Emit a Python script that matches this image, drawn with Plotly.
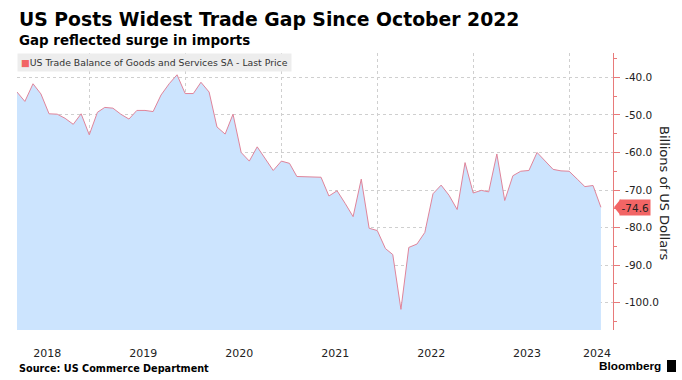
import pandas as pd
import plotly.graph_objects as go

# ---- data (monthly, Mar 2018 - Apr 2024), billions of US dollars ----
START_MONTH_END = "2018-03-31"
VALUES = [
    -43.9, -46.4, -41.7, -44.4, -49.7, -49.8, -50.9, -52.5, -49.7, -55.3,              # 2018 Mar-Dec
    -49.3, -48.0, -48.2, -49.8, -51.1, -48.8, -48.8, -49.1, -44.7, -41.7, -39.3, -44.3,  # 2019
    -44.3, -41.3, -43.9, -53.2, -55.1, -49.8, -60.0, -62.3, -58.5, -61.6, -64.8, -62.3,  # 2020
    -62.9, -66.4, -66.4, -66.6, -66.6, -71.6, -70.2, -73.6, -77.1, -67.1, -80.2, -80.8,  # 2021
    -85.6, -87.2, -101.8, -85.3, -84.4, -81.3, -71.0, -68.7, -71.4, -75.2, -62.7, -70.8, # 2022
    -70.1, -70.5, -60.4, -72.8, -66.2, -65.0, -64.8, -60.0, -62.2, -64.5, -64.9, -65.0,  # 2023
    -67.1, -69.1, -68.8, -74.6,                                                          # 2024 Jan-Apr
]
DATES = pd.date_range(START_MONTH_END, periods=len(VALUES), freq="ME")

Y_TICKS = [-40, -50, -60, -70, -80, -90, -100]
Y_TICK_LABELS = [f"{v:.1f}" for v in Y_TICKS]
X_TICK_LABELS = ["2018", "2019", "2020", "2021", "2022", "2023", "2024"]
X_TICK_DATES = ["2018-07-24", "2019-07-24", "2020-07-24", "2021-07-24",
                "2022-07-24", "2023-07-24", "2024-04-15"]
X_RANGE = ["2018-03-31", "2024-06-15"]
Y_RANGE = [-107.3, -33.5]

TITLE = "US Posts Widest Trade Gap Since October 2022"
SUBTITLE = "Gap reflected surge in imports"
SERIES_NAME = "US Trade Balance of Goods and Services SA - Last Price"
SOURCE = "Source: US Commerce Department"
Y_TITLE = "Billions of US Dollars"

# ---- styles ----
FILL = "#cce4fe"
LINE = "#e0849a"
RED = "#e87a7a"
LABEL_RED = "#f26565"
GRID = "#cfcfcf"
FONT = "DejaVu Sans"

fig = go.Figure()
# invisible baseline at the bottom of the axis so the area fills downward
fig.add_trace(go.Scatter(x=DATES, y=[Y_RANGE[0]] * len(DATES), mode="lines",
                         line=dict(width=0), hoverinfo="skip", showlegend=False))
fig.add_trace(go.Scatter(x=DATES, y=VALUES, mode="lines", name=SERIES_NAME,
                         line=dict(color=LINE, width=1), fill="tonexty",
                         fillcolor=FILL, showlegend=False))

W, H = 682, 380
L, R, T, B = 17, 69, 53, 50
pw, ph = W - L - R, H - T - B


def px_x(x):
    return (x - L) / pw


def px_y(y):
    return (H - B - y) / ph


fig.update_layout(
    width=W, height=H,
    margin=dict(l=L, r=R, t=T, b=B, autoexpand=False),
    paper_bgcolor="white", plot_bgcolor="white",
    font=dict(family=FONT, color="#222222"),
    showlegend=False,
    xaxis=dict(
        type="date", range=X_RANGE, automargin=False,
        tickmode="array", tickvals=X_TICK_DATES, ticktext=X_TICK_LABELS,
        showgrid=False, showline=False, zeroline=False, ticks="",
        tickfont=dict(size=11, color="#222222"),
        ticklabelstandoff=15,
        minor=dict(dtick="M12", tick0="2018-01-01", showgrid=True,
                   gridcolor=GRID, griddash="dot", gridwidth=1, ticks=""),
    ),
    yaxis=dict(
        side="right", range=Y_RANGE, automargin=False,
        tickmode="array", tickvals=Y_TICKS, ticktext=Y_TICK_LABELS,
        showgrid=True, gridcolor=GRID, griddash="dot", gridwidth=1,
        zeroline=False, showline=True, linecolor=RED, linewidth=1,
        ticks="outside", ticklen=6, tickcolor=RED, tickwidth=1,
        tickfont=dict(size=10.5, color="#222222"),
        ticklabelstandoff=3,
        minor=dict(dtick=5, tick0=0, ticks="outside", ticklen=3,
                   tickcolor=RED, showgrid=False),
    ),
)

annotations = [
    dict(text=f"<b>{TITLE}</b>", x=px_x(17), y=px_y(19), xref="paper", yref="paper",
         xanchor="left", yanchor="middle", showarrow=False,
         font=dict(size=18.8, color="black", family=FONT)),
    dict(text=f"<b>{SUBTITLE}</b>", x=px_x(17), y=px_y(40), xref="paper", yref="paper",
         xanchor="left", yanchor="middle", showarrow=False,
         font=dict(size=13.4, color="black", family=FONT)),
    dict(text=f"<span style='color:{LABEL_RED}'>■</span>{SERIES_NAME}",
         x=0, y=1, xref="paper", yref="paper", xanchor="left", yanchor="top",
         showarrow=False, bgcolor="#ededed", borderpad=3,
         font=dict(size=9.3, color="#333333", family=FONT)),
    dict(text=Y_TITLE, x=px_x(665), y=px_y(193), xref="paper", yref="paper",
         xanchor="center", yanchor="middle", textangle=90, showarrow=False,
         font=dict(size=13, color="#222222", family=FONT)),
    dict(text=f"{VALUES[-1]:.1f}", x=1, y=VALUES[-1], xref="paper", yref="y",
         xanchor="left", yanchor="middle", xshift=6, showarrow=False,
         bgcolor=LABEL_RED, borderpad=1.5,
         font=dict(size=10.5, color="#222222", family=FONT)),
    dict(text=f"<b>{SOURCE}</b>", x=px_x(17), y=px_y(368), xref="paper", yref="paper",
         xanchor="left", yanchor="middle", showarrow=False,
         font=dict(size=9.7, color="black", family=FONT)),
    dict(text="<b>Bloomberg</b>", x=px_x(663), y=px_y(366), xref="paper", yref="paper",
         xanchor="right", yanchor="middle", showarrow=False,
         font=dict(size=11.8, color="black", family="Liberation Sans")),
]
fig.update_layout(annotations=annotations)

# left-pointing tip of the last-value label, anchored at the last value
v = VALUES[-1]
half = 8 / ph * (Y_RANGE[1] - Y_RANGE[0])
x_tip, x_base = px_x(614), px_x(620.5)
fig.add_shape(type="path", xref="paper", yref="y",
              path=f"M {x_tip} {v} L {x_base} {v + half} L {x_base} {v - half} Z",
              fillcolor=LABEL_RED, line=dict(width=0), layer="above")
# small Bloomberg mark
fig.add_shape(type="rect", xref="paper", yref="paper",
              x0=px_x(667), x1=px_x(676), y0=px_y(372), y1=px_y(360),
              fillcolor="black", line=dict(width=0))

fig.write_html("out.html", config={"displayModeBar": False},
               post_script="document.body.style.margin='0';")
